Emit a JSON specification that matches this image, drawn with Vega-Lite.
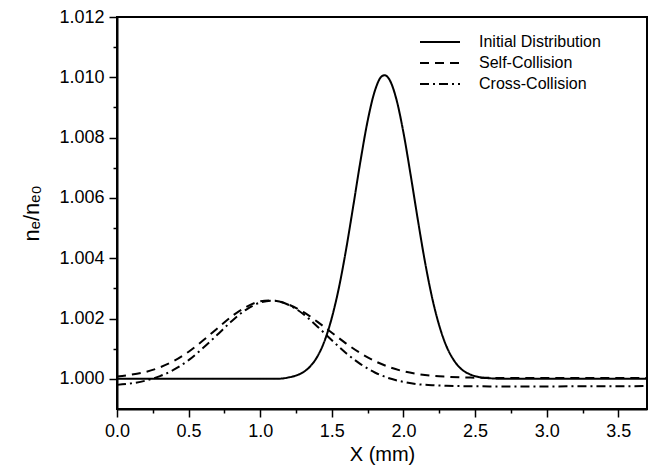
{
  "$schema": "https://vega.github.io/schema/vega-lite/v6.json",
  "width": 530,
  "height": 392,
  "autosize": "none",
  "padding": {"left": 117, "top": 17, "right": 10, "bottom": 61},
  "background": "white",
  "config": {
    "font": "Liberation Sans",
    "view": {"stroke": "black", "strokeWidth": 2},
    "axis": {"grid": false, "labelFlush": false, "domainColor": "black", "domainWidth": 2, "tickColor": "black", "tickWidth": 1.5, "labelColor": "black", "titleColor": "black", "labelFont": "Liberation Sans", "titleFont": "Liberation Sans"}
  },
  "data": {"values": [
    {"x": 0, "y": 1.0, "series": "Initial Distribution"},
    {"x": 0.5, "y": 1.0, "series": "Initial Distribution"},
    {"x": 1.0, "y": 1.0, "series": "Initial Distribution"},
    {"x": 1.1, "y": 1.0, "series": "Initial Distribution"},
    {"x": 1.15, "y": 1.00001, "series": "Initial Distribution"},
    {"x": 1.2, "y": 1.00005, "series": "Initial Distribution"},
    {"x": 1.25, "y": 1.00011, "series": "Initial Distribution"},
    {"x": 1.3, "y": 1.00022, "series": "Initial Distribution"},
    {"x": 1.35, "y": 1.00042, "series": "Initial Distribution"},
    {"x": 1.4, "y": 1.00075, "series": "Initial Distribution"},
    {"x": 1.45, "y": 1.00127, "series": "Initial Distribution"},
    {"x": 1.5, "y": 1.00203, "series": "Initial Distribution"},
    {"x": 1.55, "y": 1.00304, "series": "Initial Distribution"},
    {"x": 1.6, "y": 1.00431, "series": "Initial Distribution"},
    {"x": 1.65, "y": 1.00575, "series": "Initial Distribution"},
    {"x": 1.7, "y": 1.00723, "series": "Initial Distribution"},
    {"x": 1.75, "y": 1.00856, "series": "Initial Distribution"},
    {"x": 1.8, "y": 1.00955, "series": "Initial Distribution"},
    {"x": 1.85, "y": 1.01004, "series": "Initial Distribution"},
    {"x": 1.87, "y": 1.01007, "series": "Initial Distribution"},
    {"x": 1.9, "y": 1.00994, "series": "Initial Distribution"},
    {"x": 1.95, "y": 1.00928, "series": "Initial Distribution"},
    {"x": 2.0, "y": 1.00816, "series": "Initial Distribution"},
    {"x": 2.05, "y": 1.00676, "series": "Initial Distribution"},
    {"x": 2.1, "y": 1.00528, "series": "Initial Distribution"},
    {"x": 2.15, "y": 1.00388, "series": "Initial Distribution"},
    {"x": 2.2, "y": 1.00269, "series": "Initial Distribution"},
    {"x": 2.25, "y": 1.00176, "series": "Initial Distribution"},
    {"x": 2.3, "y": 1.00108, "series": "Initial Distribution"},
    {"x": 2.35, "y": 1.00063, "series": "Initial Distribution"},
    {"x": 2.4, "y": 1.00034, "series": "Initial Distribution"},
    {"x": 2.45, "y": 1.00018, "series": "Initial Distribution"},
    {"x": 2.5, "y": 1.00009, "series": "Initial Distribution"},
    {"x": 2.55, "y": 1.00004, "series": "Initial Distribution"},
    {"x": 2.6, "y": 1.00002, "series": "Initial Distribution"},
    {"x": 2.7, "y": 1.0, "series": "Initial Distribution"},
    {"x": 3.0, "y": 1.0, "series": "Initial Distribution"},
    {"x": 3.7, "y": 1.0, "series": "Initial Distribution"},
    {"x": 0, "y": 1.00008, "series": "Self-Collision"},
    {"x": 0.1, "y": 1.00014, "series": "Self-Collision"},
    {"x": 0.2, "y": 1.00023, "series": "Self-Collision"},
    {"x": 0.3, "y": 1.00038, "series": "Self-Collision"},
    {"x": 0.4, "y": 1.0006, "series": "Self-Collision"},
    {"x": 0.5, "y": 1.0009, "series": "Self-Collision"},
    {"x": 0.6, "y": 1.00127, "series": "Self-Collision"},
    {"x": 0.7, "y": 1.00167, "series": "Self-Collision"},
    {"x": 0.8, "y": 1.00207, "series": "Self-Collision"},
    {"x": 0.9, "y": 1.00238, "series": "Self-Collision"},
    {"x": 1.0, "y": 1.00257, "series": "Self-Collision"},
    {"x": 1.06, "y": 1.0026, "series": "Self-Collision"},
    {"x": 1.1, "y": 1.00259, "series": "Self-Collision"},
    {"x": 1.2, "y": 1.00246, "series": "Self-Collision"},
    {"x": 1.3, "y": 1.00222, "series": "Self-Collision"},
    {"x": 1.4, "y": 1.00189, "series": "Self-Collision"},
    {"x": 1.5, "y": 1.00153, "series": "Self-Collision"},
    {"x": 1.6, "y": 1.00117, "series": "Self-Collision"},
    {"x": 1.7, "y": 1.00085, "series": "Self-Collision"},
    {"x": 1.8, "y": 1.00059, "series": "Self-Collision"},
    {"x": 1.9, "y": 1.00039, "series": "Self-Collision"},
    {"x": 2.0, "y": 1.00025, "series": "Self-Collision"},
    {"x": 2.1, "y": 1.00016, "series": "Self-Collision"},
    {"x": 2.2, "y": 1.0001, "series": "Self-Collision"},
    {"x": 2.3, "y": 1.00007, "series": "Self-Collision"},
    {"x": 2.4, "y": 1.00005, "series": "Self-Collision"},
    {"x": 2.5, "y": 1.00004, "series": "Self-Collision"},
    {"x": 2.7, "y": 1.00003, "series": "Self-Collision"},
    {"x": 3.0, "y": 1.00003, "series": "Self-Collision"},
    {"x": 3.7, "y": 1.00003, "series": "Self-Collision"},
    {"x": 0, "y": 0.9998, "series": "Cross-Collision"},
    {"x": 0.1, "y": 0.99985, "series": "Cross-Collision"},
    {"x": 0.2, "y": 0.99994, "series": "Cross-Collision"},
    {"x": 0.3, "y": 1.00009, "series": "Cross-Collision"},
    {"x": 0.4, "y": 1.00031, "series": "Cross-Collision"},
    {"x": 0.5, "y": 1.00062, "series": "Cross-Collision"},
    {"x": 0.6, "y": 1.00102, "series": "Cross-Collision"},
    {"x": 0.7, "y": 1.00146, "series": "Cross-Collision"},
    {"x": 0.8, "y": 1.00191, "series": "Cross-Collision"},
    {"x": 0.9, "y": 1.00229, "series": "Cross-Collision"},
    {"x": 1.0, "y": 1.00253, "series": "Cross-Collision"},
    {"x": 1.08, "y": 1.00259, "series": "Cross-Collision"},
    {"x": 1.1, "y": 1.00259, "series": "Cross-Collision"},
    {"x": 1.2, "y": 1.00245, "series": "Cross-Collision"},
    {"x": 1.3, "y": 1.00215, "series": "Cross-Collision"},
    {"x": 1.4, "y": 1.00173, "series": "Cross-Collision"},
    {"x": 1.5, "y": 1.00128, "series": "Cross-Collision"},
    {"x": 1.6, "y": 1.00085, "series": "Cross-Collision"},
    {"x": 1.7, "y": 1.00049, "series": "Cross-Collision"},
    {"x": 1.8, "y": 1.00021, "series": "Cross-Collision"},
    {"x": 1.9, "y": 1.00002, "series": "Cross-Collision"},
    {"x": 2.0, "y": 0.9999, "series": "Cross-Collision"},
    {"x": 2.1, "y": 0.99982, "series": "Cross-Collision"},
    {"x": 2.2, "y": 0.99979, "series": "Cross-Collision"},
    {"x": 2.3, "y": 0.99977, "series": "Cross-Collision"},
    {"x": 2.4, "y": 0.99976, "series": "Cross-Collision"},
    {"x": 2.6, "y": 0.99975, "series": "Cross-Collision"},
    {"x": 3.0, "y": 0.99975, "series": "Cross-Collision"},
    {"x": 3.7, "y": 0.99976, "series": "Cross-Collision"}
  ]},
  "layer": [
    {
      "mark": {"type": "line", "interpolate": "monotone", "color": "black", "strokeWidth": 2},
      "encoding": {
        "x": {"field": "x", "type": "quantitative", "scale": {"domain": [0, 3.7], "nice": false, "zero": false},
          "axis": {"orient": "bottom", "values": [0, 0.5, 1, 1.5, 2, 2.5, 3, 3.5], "format": ".1f", "title": "X (mm)", "tickSize": 8, "labelFontSize": 18, "labelPadding": 5, "titleFontSize": 20, "titleFontWeight": "normal", "titlePadding": 4}},
        "y": {"field": "y", "type": "quantitative", "scale": {"domain": [0.999, 1.012], "nice": false, "zero": false},
          "axis": {"orient": "left", "values": [1.0, 1.002, 1.004, 1.006, 1.008, 1.01, 1.012], "format": ".3f", "title": "nₑ/nₑ₀", "tickSize": 8, "labelFontSize": 18, "labelPadding": 5, "titleFontSize": 22, "titleFontWeight": "normal", "titlePadding": 15}},
        "strokeDash": {"field": "series", "type": "nominal",
          "scale": {"domain": ["Initial Distribution", "Self-Collision", "Cross-Collision"], "range": [[1, 0], [9, 6], [9, 4, 2, 4]]},
          "legend": {"orient": "none", "legendX": 302, "legendY": 17, "title": null, "symbolType": "stroke", "symbolSize": 1600, "symbolStrokeWidth": 2, "symbolStrokeColor": "black", "clipHeight": 16, "labelFontSize": 16, "labelColor": "black", "labelOffset": 18, "rowPadding": 5, "labelFont": "Liberation Sans"}}
      }
    },
    {
      "mark": {"type": "line", "opacity": 0},
      "encoding": {
        "x": {"field": "x", "type": "quantitative",
          "axis": {"orient": "bottom", "values": [0.25, 0.75, 1.25, 1.75, 2.25, 2.75, 3.25], "labels": false, "domain": false, "title": null, "tickSize": 4}},
        "y": {"field": "y", "type": "quantitative",
          "axis": {"orient": "left", "values": [1.001, 1.003, 1.005, 1.007, 1.009, 1.011], "labels": false, "domain": false, "title": null, "tickSize": 4}},
        "detail": {"field": "series"}
      }
    }
  ],
  "resolve": {"axis": {"x": "independent", "y": "independent"}}
}
